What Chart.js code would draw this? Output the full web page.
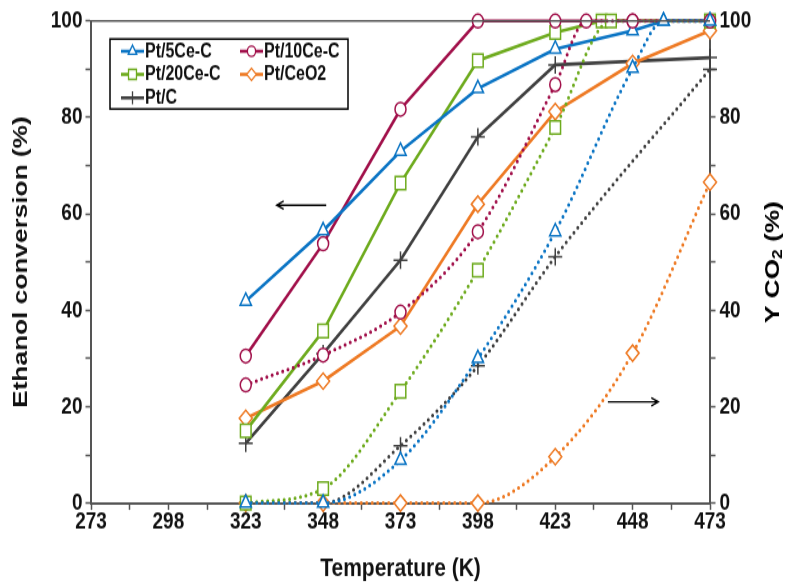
<!DOCTYPE html>
<html>
<head>
<meta charset="utf-8">
<script src="https://cdn.jsdelivr.net/npm/chart.js@4.4.0/dist/chart.umd.min.js"></script>
<style>
  html, body { margin: 0; padding: 0; background: #fff; overflow: hidden; }
  /* chart is laid out at 791x469 and stretched to the page height */
  #wrap { position: absolute; left: 0; top: 0; width: 791px; height: 469px;
          transform-origin: 0 0; transform: scale(1, 1.2495); }
</style>
</head>
<body>
<div id="wrap"><canvas id="chart"></canvas></div>
<script>
const series = ['Pt/5Ce-C', 'Pt/10Ce-C', 'Pt/20Ce-C', 'Pt/CeO2', 'Pt/C'];

// x tick labels (K) and y tick labels (%)
const tempTicks = [273, 298, 323, 348, 373, 398, 423, 448, 473];
const pctTicks = [0, 20, 40, 60, 80, 100];

// ethanol conversion, solid lines (left axis)
const convT5Ce  = [323, 348, 373, 398, 423, 448, 458, 473];
const conv5Ce   = [41.9, 56.5, 73.0, 86.0, 94.2, 98.0, 100, 100];
const convT10Ce = [323, 348, 373, 398, 423, 448, 473];
const conv10Ce  = [30.5, 53.8, 81.7, 100, 100, 100, 100];
const convT20Ce = [323, 348, 373, 398, 423, 438, 473];
const conv20Ce  = [15.0, 35.7, 66.4, 91.8, 97.6, 100, 100];
const convTCeO2 = [323, 348, 373, 398, 423, 448, 473];
const convCeO2  = [17.6, 25.3, 36.7, 62.0, 81.2, 91.2, 98.0];
const convTC    = [323, 348, 373, 398, 423, 473];
const convC     = [12.4, 31.0, 50.4, 76.0, 90.9, 92.4];

// CO2 yield, dotted lines (right axis)
const co2T5Ce  = [323, 348, 373, 398, 423, 448, 458, 473];
const co25Ce   = [0, 0, 8.9, 30.0, 56.3, 90.2, 100, 100];
const co2T10Ce = [323, 348, 373, 398, 423, 433, 448, 473];
const co210Ce  = [24.5, 30.7, 39.6, 56.3, 86.8, 100, 100, 100];
const co2T20Ce = [323, 348, 373, 398, 423, 441, 473];
const co220Ce  = [0, 3.0, 23.2, 48.3, 77.9, 100, 100];
const co2TCeO2 = [323, 348, 373, 398, 423, 448, 473];
const co2CeO2  = [0, 0, 0, 0, 9.6, 31.1, 66.6];
const co2TC    = [323, 348, 373, 398, 423, 473];
const co2C     = [0, 0, 11.9, 28.5, 51.1, 90.0];

const colors  = ['#0A74C4', '#A1104A', '#6EAB1E', '#EE7A24', '#404040'];
const markers = ['triangle', 'circle', 'rect', 'rectRot', 'cross'];
const radii   = [6.5, 5.5, 7.5, 6.5, 7];

const FONT = "'Liberation Sans', Arial, sans-serif";
const AXIS = '#555555';

function makeSet(i, temps, vals, axis, dotted) {
  return {
    label: series[i],
    data: temps.map((t, k) => ({ x: t, y: vals[k] })),
    yAxisID: axis,
    borderColor: colors[i],
    backgroundColor: '#fff',
    borderWidth: dotted ? 3 : 2.6,
    borderDash: dotted ? [0, 5.5] : [],
    borderCapStyle: dotted ? 'round' : 'butt',
    cubicInterpolationMode: dotted ? 'monotone' : 'default',
    tension: 0,
    pointStyle: markers[i],
    pointRadius: radii[i],
    pointBorderWidth: 1.5,
    pointBorderColor: colors[i],
    pointBackgroundColor: '#fff',
    clip: false,
    solid: !dotted,
  };
}

const datasets = [
  makeSet(0, co2T5Ce, co25Ce, 'y1', true),
  makeSet(1, co2T10Ce, co210Ce, 'y1', true),
  makeSet(2, co2T20Ce, co220Ce, 'y1', true),
  makeSet(3, co2TCeO2, co2CeO2, 'y1', true),
  makeSet(4, co2TC, co2C, 'y1', true),
  makeSet(0, convT5Ce, conv5Ce, 'y', false),
  makeSet(1, convT10Ce, conv10Ce, 'y', false),
  makeSet(2, convT20Ce, conv20Ce, 'y', false),
  makeSet(3, convTCeO2, convCeO2, 'y', false),
  makeSet(4, convTC, convC, 'y', false),
];

// top frame line, direction arrows, right axis title with subscript
const extras = {
  id: 'extras',
  afterDraw(chart) {
    const { ctx, chartArea: a, scales } = chart;
    ctx.save();
    ctx.strokeStyle = AXIS;
    ctx.lineWidth = 1.6;
    ctx.beginPath();
    ctx.moveTo(a.left, a.top);
    ctx.lineTo(a.right, a.top);
    ctx.stroke();

    // arrows point to the axis each family of curves belongs to
    const arrows = [
      { from: 349, to: 333, value: 61.8, axis: 'y' },
      { from: 440, to: 456.3, value: 21, axis: 'y1' },
    ];
    ctx.strokeStyle = '#000';
    ctx.lineWidth = 1.4;
    arrows.forEach(ar => {
      const x0 = scales.x.getPixelForValue(ar.from);
      const x1 = scales.x.getPixelForValue(ar.to);
      const y = scales[ar.axis].getPixelForValue(ar.value);
      const d = Math.sign(x1 - x0);
      ctx.beginPath();
      ctx.moveTo(x0, y);
      ctx.lineTo(x1, y);
      ctx.moveTo(x1 - d * 7, y - 3.3);
      ctx.lineTo(x1, y);
      ctx.lineTo(x1 - d * 7, y + 3.3);
      ctx.stroke();
    });

    // "Y CO2 (%)" reading upwards
    ctx.translate(773, (a.top + a.bottom) / 2);
    ctx.rotate(-Math.PI / 2);
    ctx.fillStyle = '#000';
    ctx.textBaseline = 'middle';
    const big = 'bold 21px ' + FONT, small = 'bold 14px ' + FONT;
    ctx.font = big;
    const w1 = ctx.measureText('Y CO').width, w3 = ctx.measureText(' (%)').width;
    ctx.font = small;
    const w2 = ctx.measureText('2').width;
    let x = -(w1 + w2 + w3) / 2;
    ctx.font = big;
    ctx.fillText('Y CO', x, 0);
    x += w1;
    ctx.font = small;
    ctx.fillText('2', x, 5);
    x += w2;
    ctx.font = big;
    ctx.fillText(' (%)', x, 0);
    ctx.restore();
  }
};

// boxed legend inside the plot, solid series only
const boxLegend = {
  id: 'boxLegend',
  afterDraw(chart) {
    const { ctx } = chart;
    const solid = chart.data.datasets.filter(d => d.solid);
    ctx.save();
    ctx.fillStyle = '#fff';
    ctx.fillRect(110, 31.2, 238, 56);
    ctx.strokeStyle = '#000';
    ctx.lineWidth = 1.5;
    ctx.strokeRect(110, 31.2, 238, 56);
    const slots = [[121, 41], [240, 41], [121, 59.5], [240, 59.5], [121, 78.3]];
    solid.forEach((ds, i) => {
      const [x, y] = slots[i];
      ctx.strokeStyle = ds.borderColor;
      ctx.lineWidth = 2.6;
      ctx.setLineDash([]);
      ctx.beginPath();
      ctx.moveTo(x, y);
      ctx.lineTo(x + 23, y);
      ctx.stroke();
      ctx.fillStyle = '#fff';
      ctx.lineWidth = 1.3;
      Chart.helpers.drawPoint(ctx, {
        pointStyle: ds.pointStyle, radius: ds.pointRadius * 0.75, rotation: 0, borderWidth: 1.3
      }, x + 11.5, y);
      ctx.fillStyle = '#111';
      ctx.font = 'bold 16px ' + FONT;
      ctx.textBaseline = 'middle';
      ctx.fillText(ds.label, x + 24, y + 0.5);
    });
    ctx.restore();
  }
};

const tickFont = { family: FONT, size: 19, weight: 'bold', lineHeight: 1 };
const titleFont = { family: FONT, size: 21, weight: 'bold' };
const gridOpts = { display: true, drawOnChartArea: false, drawTicks: true, tickLength: 5.5, tickColor: AXIS, tickWidth: 1.5 };

new Chart(document.getElementById('chart'), {
  type: 'line',
  data: { datasets },
  options: {
    responsive: true,
    maintainAspectRatio: false,
    animation: false,
    events: [],
    layout: { padding: { top: 16.8, bottom: 0, left: 0, right: 0 } },
    plugins: { legend: { display: false }, tooltip: { enabled: false } },
    scales: {
      x: {
        type: 'linear',
        min: 273, max: 473,
        border: { display: true, color: AXIS, width: 2 },
        grid: gridOpts,
        ticks: {
          stepSize: 12.5, autoSkip: false, maxRotation: 0, padding: 0,
          color: '#111', font: tickFont,
          callback: v => tempTicks.includes(v) ? String(v) : ''
        },
        title: { display: true, text: 'Temperature (K)', color: '#111', font: titleFont, padding: { top: 0, bottom: 1 } },
        afterFit: s => { s.height = 66.4; }
      },
      y: {
        position: 'left',
        min: 0, max: 100,
        border: { display: true, color: AXIS, width: 2 },
        grid: gridOpts,
        ticks: {
          stepSize: 10, autoSkip: false, padding: 3, color: '#111', font: tickFont,
          callback: v => pctTicks.includes(v) ? String(v) : ''
        },
        title: { display: true, text: 'Ethanol conversion (%)', color: '#111', font: titleFont, padding: { top: 9, bottom: 0 } },
        afterFit: s => { s.width = 91; }
      },
      y1: {
        position: 'right',
        min: 0, max: 100,
        border: { display: true, color: AXIS, width: 2 },
        grid: gridOpts,
        ticks: {
          stepSize: 10, autoSkip: false, padding: 4, color: '#111', font: tickFont,
          callback: v => pctTicks.includes(v) ? String(v) : ''
        },
        afterFit: s => { s.width = 81; }
      }
    }
  },
  plugins: [extras, boxLegend]
});
</script>
</body>
</html>
